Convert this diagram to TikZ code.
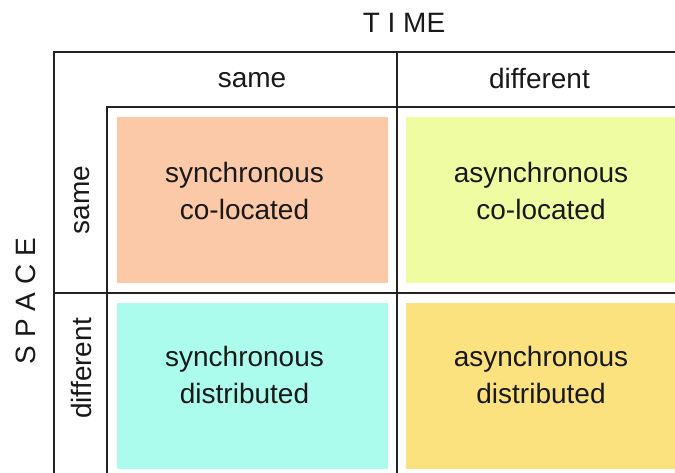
\documentclass[tikz,border=0pt]{standalone}
\usepackage{fontspec}
\setmainfont{Liberation Sans}
\definecolor{peach}{HTML}{FBC9A7}
\definecolor{lime}{HTML}{EFFCA2}
\definecolor{aqua}{HTML}{ABFCEC}
\definecolor{gold}{HTML}{FCE27E}
\definecolor{rulecol}{HTML}{222222}
\begin{document}
\begin{tikzpicture}[x=1pt,y=-1pt,
  txt/.style={font=\fontsize{28}{37}\selectfont, align=center, inner sep=0pt, text=black!90},
  cellbox/.style={draw=none, inner sep=0pt, minimum height=166pt},
  gridline/.style={draw=rulecol, line width=1.5pt}]
\useasboundingbox (0,0) rectangle (675,473);
\fill[white] (0,0) rectangle (675,473);
% cells
\node[cellbox, fill=peach, minimum width=271pt] (sc) at (252.5,200) {};
\node[cellbox, fill=lime, minimum width=269pt] (ac) at (540.5,200) {};
\node[cellbox, fill=aqua, minimum width=271pt] (sd) at (252.5,386) {};
\node[cellbox, fill=gold, minimum width=269pt] (ad) at (540.5,386) {};
% grid
\path[gridline] (54,473) -- (54,52) -- (675,52);
\path[gridline] (397,52) -- (397,473);
\path[gridline] (107,473) -- (107,107) -- (675,107);
\path[gridline] (54,293) -- (675,293);
% headings
\node[txt] (time) at (404,23) {T I ME};
\node[txt, rotate=90] (space) at (26,301) {S P A C E};
\node[txt] (tsame) at (252,80.5) {same};
\node[txt] (tdiff) at (539.5,78) {different};
\node[txt, rotate=90] (ssame) at (82.5,200) {same};
\node[txt, rotate=90] (sdiff) at (81,368.5) {different};
% cell texts
\node[txt] (sct) at (244.5,190.5) {synchronous\\co-located};
\node[txt] (act) at (541,190.5) {asynchronous\\co-located};
\node[txt] (sdt) at (244.5,374.5) {synchronous\\distributed};
\node[txt] (adt) at (541,374.5) {asynchronous\\distributed};
\end{tikzpicture}
\end{document}
